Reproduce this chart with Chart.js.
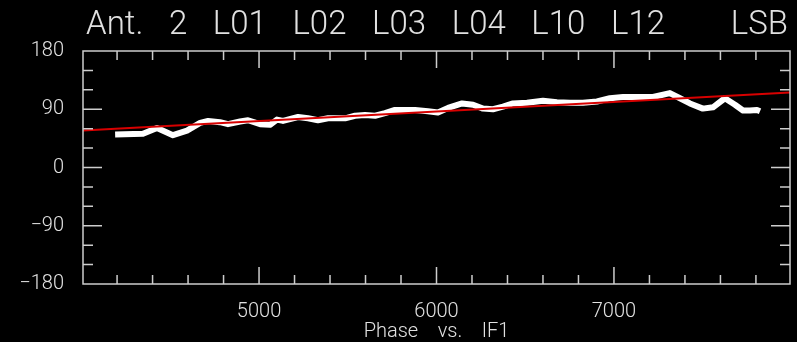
<!DOCTYPE html>
<html>
<head>
<meta charset="utf-8">
<script src="https://cdn.jsdelivr.net/npm/chart.js@4/dist/chart.umd.min.js"></script>
<style>
  html, body { margin: 0; padding: 0; background: #000; }
  canvas { display: block; }
</style>
</head>
<body>
<canvas id="phase" width="797" height="342"></canvas>
<script>
// measured phase vs IF frequency (MHz, deg)
const freq = [4189,4346,4425,4515,4594,4668,4713,4780,4825,4893,4938,5006,5062,5101,5135,5220,5276,5332,5389,5428,5485,5541,5597,5654,5710,5766,5823,5879,5952,6008,6065,6144,6206,6262,6318,6375,6431,6510,6600,6679,6752,6825,6904,6977,7051,7107,7220,7315,7372,7428,7501,7558,7625,7682,7727,7766,7806,7823];
const phase = [51,52,61,50,57,69,72,70,67,71,73,67,66,74,72,78,76,73,76,76,76,80,81,80,84,89,89,89,87,85,92,99,97,91,90,94,99,100,103,101,100,100,102,107,109,109,109,115,107,99,91,93,107,97,88,88,89,87];

// linear fit across the band
const fitFreq = [4008, 7992];
const fitPhase = [57, 116];

const xTicks = [5000, 6000, 7000];
const yTicks = [-180, -90, 0, 90, 180];
const titleMain = 'Ant. 2 L01 L02 L03 L04 L10 L12';
const titleSide = 'LSB';
const xTitle = 'Phase    vs.    IF1';

const fg = 'rgb(225,225,225)';
const axisCol = 'rgb(205,205,205)';
const fontFam = 'Roboto, "DejaVu Sans", sans-serif';

const pts = (xs, ys) => xs.map((v, i) => ({x: v, y: ys[i]}));

const frame = {
  id: 'frame',
  beforeDraw(chart) {
    const ctx = chart.ctx;
    ctx.save();
    ctx.fillStyle = '#000';
    ctx.fillRect(0, 0, chart.width, chart.height);
    ctx.restore();
  },
  afterDraw(chart) {
    const {ctx, chartArea: a, scales: {x, y}} = chart;
    ctx.save();
    ctx.strokeStyle = axisCol;
    ctx.lineWidth = 1.5;
    ctx.strokeRect(a.left, a.top, a.right - a.left, a.bottom - a.top);
    ctx.beginPath();
    for (let v = Math.ceil(x.min / 200) * 200; v <= x.max; v += 200) {
      const px = x.getPixelForValue(v);
      const len = v % 1000 === 0 ? 17 : 9;
      ctx.moveTo(px, a.bottom); ctx.lineTo(px, a.bottom - len);
      ctx.moveTo(px, a.top); ctx.lineTo(px, a.top + len);
    }
    for (let v = -150; v < 180; v += 30) {
      const py = y.getPixelForValue(v);
      const len = v % 90 === 0 ? 19 : 10;
      ctx.moveTo(a.left, py); ctx.lineTo(a.left + len, py);
      ctx.moveTo(a.right, py); ctx.lineTo(a.right - len, py);
    }
    ctx.stroke();

    // title: stretch the word gaps so it spans the same width as the original
    ctx.fillStyle = fg;
    ctx.font = '300 33px ' + fontFam;
    ctx.textBaseline = 'alphabetic';
    ctx.textAlign = 'left';
    const w = ctx.measureText(titleMain).width;
    const gaps = titleMain.split(' ').length - 1;
    ctx.wordSpacing = Math.max(0, (579 - w) / gaps) + 'px';
    ctx.fillText(titleMain, a.left + 3, 34);
    ctx.wordSpacing = '0px';
    ctx.textAlign = 'right';
    ctx.fillText(titleSide, a.right - 2, 34);
    ctx.restore();
  }
};

new Chart(document.getElementById('phase').getContext('2d'), {
  type: 'line',
  plugins: [frame],
  data: {
    datasets: [
      {
        label: 'fit',
        data: pts(fitFreq, fitPhase),
        borderColor: 'rgb(215,0,0)',
        borderWidth: 2,
        pointRadius: 0,
        order: 0
      },
      {
        label: 'phase',
        data: pts(freq, phase),
        borderColor: '#fff',
        borderWidth: 6,
        borderJoinStyle: 'round',
        pointRadius: 0,
        tension: 0,
        order: 1
      }
    ]
  },
  options: {
    responsive: false,
    animation: false,
    layout: { padding: { top: 51, right: 7 } },
    plugins: {
      legend: { display: false },
      tooltip: { enabled: false },
      title: { display: false }
    },
    scales: {
      x: {
        type: 'linear',
        min: 4008,
        max: 7992,
        grid: { display: false },
        border: { display: false },
        afterFit: s => { s.height = 58; },
        afterBuildTicks: s => { s.ticks = xTicks.map(v => ({value: v})); },
        ticks: {
          padding: 8,
          color: fg,
          font: { family: fontFam, size: 20, weight: '300' },
          maxRotation: 0,
          autoSkip: false,
          callback: v => String(v)
        },
        title: {
          display: true,
          text: xTitle,
          color: fg,
          font: { family: fontFam, size: 20, weight: '300' },
          padding: { top: 0, bottom: -2 }
        }
      },
      y: {
        min: -180,
        max: 180,
        grid: { display: false },
        border: { display: false },
        afterFit: s => { s.width = 83; },
        afterBuildTicks: s => { s.ticks = yTicks.map(v => ({value: v})); },
        ticks: {
          padding: 11,
          color: fg,
          font: { family: fontFam, size: 20, weight: '300' },
          callback: v => String(v).replace('-', '\u2212')
        }
      }
    }
  }
});
</script>
</body>
</html>
